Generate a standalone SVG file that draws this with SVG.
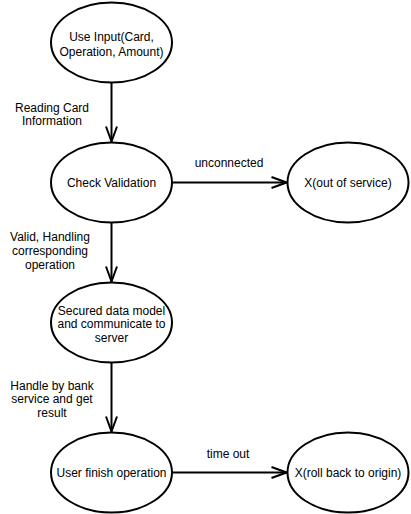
<svg xmlns="http://www.w3.org/2000/svg" width="411" height="514" viewBox="0 0 411 514">
  <style>
    .node { fill: #ffffff; stroke: #000000; stroke-width: 2; }
    .t { font-family: "Liberation Sans", Arial, sans-serif; font-size: 12px; fill: #000000; text-anchor: middle; }
    .edge { stroke: #000000; stroke-width: 2; fill: none; }
  </style>
  <defs>
    <marker id="open" viewBox="-17 -8 19 16" refX="0" refY="0" markerWidth="19" markerHeight="16" markerUnits="userSpaceOnUse" orient="auto">
      <path d="M -15 -5.5 L 0 0 L -15 5.5" fill="none" stroke="#000000" stroke-width="2"/>
    </marker>
  </defs>
  <rect x="0" y="0" width="411" height="514" fill="#ffffff"/>

  <g id="connectors">
    <line class="edge" x1="111.5" y1="82.5" x2="111.5" y2="141.5" marker-end="url(#open)"/>
    <line class="edge" x1="111.5" y1="222.5" x2="111.5" y2="281.5" marker-end="url(#open)"/>
    <line class="edge" x1="111.5" y1="362.5" x2="111.5" y2="431.5" marker-end="url(#open)"/>
    <line class="edge" x1="172" y1="182.5" x2="286.5" y2="182.5" marker-end="url(#open)"/>
    <line class="edge" x1="172" y1="472.5" x2="286.5" y2="472.5" marker-end="url(#open)"/>
    <text class="t" x="52" y="111.5">Reading Card</text>
    <text class="t" x="52" y="125">Information</text>
    <text class="t" x="50" y="241">Valid, Handling</text>
    <text class="t" x="50" y="255">corresponding</text>
    <text class="t" x="50" y="269">operation</text>
    <text class="t" x="52" y="389.5">Handle by bank</text>
    <text class="t" x="52" y="403">service and get</text>
    <text class="t" x="52" y="417">result</text>
    <text class="t" x="229" y="167">unconnected</text>
    <text class="t" x="228" y="458">time out</text>
  </g>

  <g id="input">
    <ellipse class="node" cx="111.5" cy="42.5" rx="60.5" ry="40"/>
    <text class="t" x="111.5" y="40.5">Use Input(Card,</text>
    <text class="t" x="111.5" y="55.5">Operation, Amount)</text>
  </g>
  <g id="check">
    <ellipse class="node" cx="111.5" cy="182.5" rx="60.5" ry="40"/>
    <text class="t" x="111.5" y="187">Check Validation</text>
  </g>
  <g id="outofservice">
    <ellipse class="node" cx="348" cy="182.5" rx="60.5" ry="40"/>
    <text class="t" x="348" y="187">X(out of service)</text>
  </g>
  <g id="secured">
    <ellipse class="node" cx="111.5" cy="322.5" rx="60.5" ry="40"/>
    <text class="t" x="111.5" y="314.5">Secured data model</text>
    <text class="t" x="111.5" y="328">and communicate to</text>
    <text class="t" x="111.5" y="342">server</text>
  </g>
  <g id="finish">
    <ellipse class="node" cx="111.5" cy="472.5" rx="60.5" ry="40"/>
    <text class="t" x="111.5" y="476.5">User finish operation</text>
  </g>
  <g id="rollback">
    <ellipse class="node" cx="348" cy="472.5" rx="60.5" ry="40"/>
    <text class="t" x="348" y="476.5">X(roll back to origin)</text>
  </g>
</svg>
